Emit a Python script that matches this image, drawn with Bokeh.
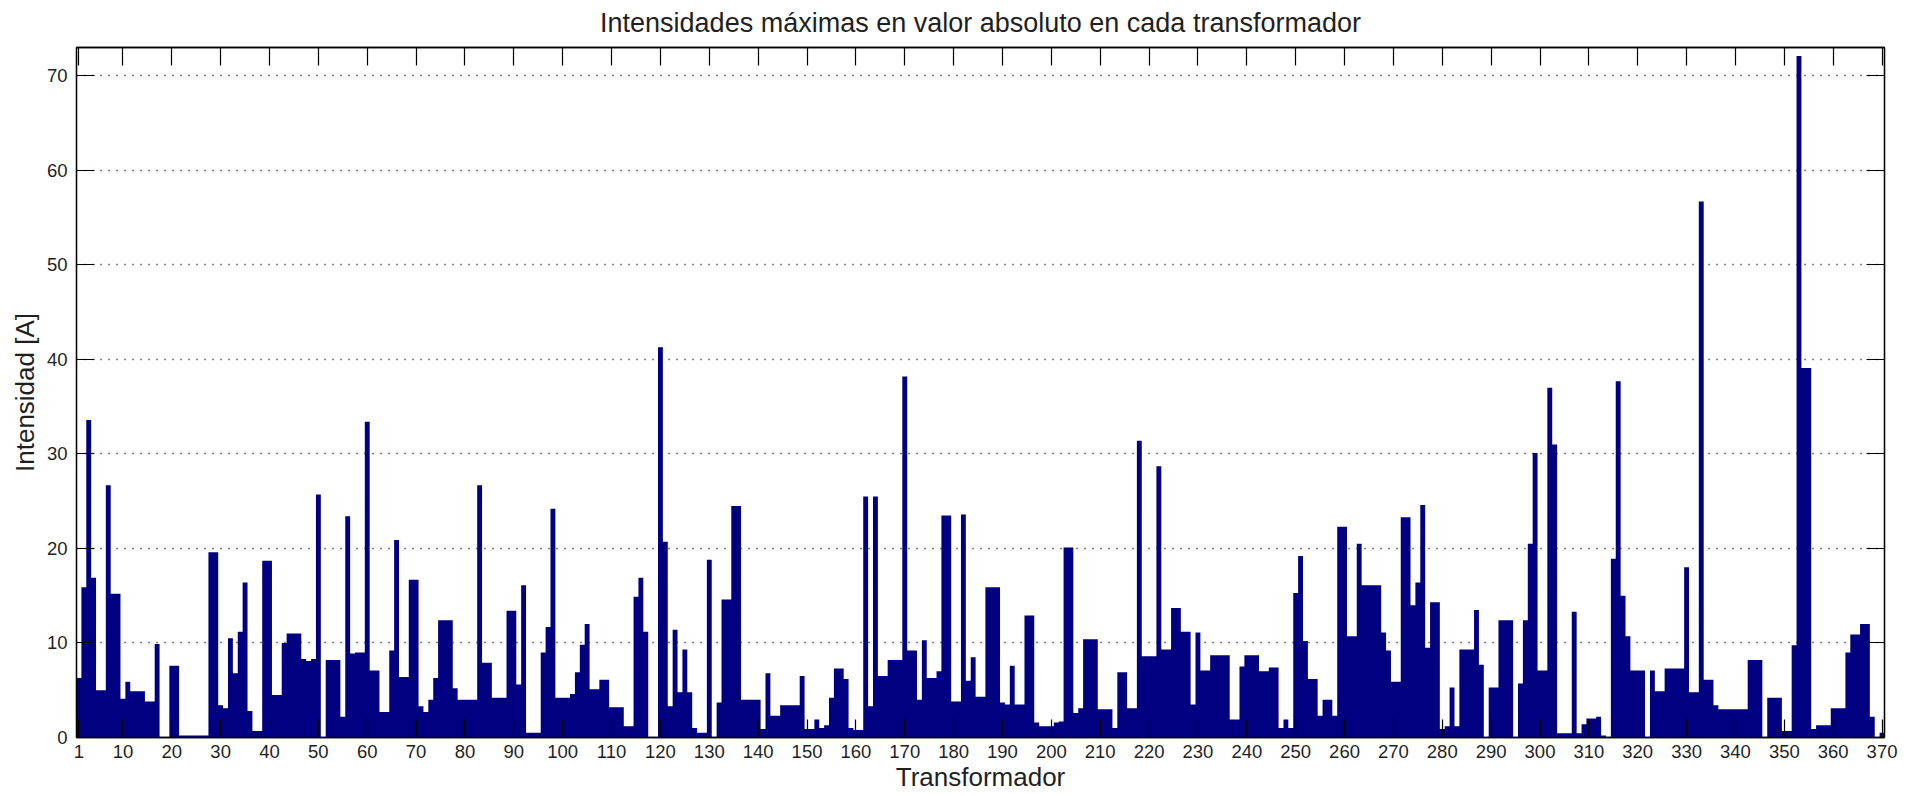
from bokeh.plotting import figure
from bokeh.models import Range1d, FixedTicker, LinearAxis, ColumnDataSource
from bokeh.embed import file_html
from bokeh.resources import INLINE

# ---------------- data ----------------
transformadores = list(range(1, 371))
intensidades = [
    6.3, 15.9, 33.6, 16.9, 5.0, 5.0, 26.7, 15.2, 15.2, 4.1,
    5.9, 4.9, 4.9, 4.9, 3.8, 3.8, 9.9, 0, 0, 7.6,
    7.6, 0.2, 0.2, 0.2, 0.2, 0.2, 0.2, 19.6, 19.6, 3.4,
    3.1, 10.5, 6.8, 11.2, 16.4, 2.8, 0.7, 0.7, 18.7, 18.7,
    4.5, 4.5, 10.0, 11.0, 11.0, 11.0, 8.3, 8.1, 8.3, 25.7,
    0, 8.2, 8.2, 8.2, 2.2, 23.4, 8.9, 9.0, 9.0, 33.4,
    7.1, 7.1, 2.7, 2.7, 9.2, 20.9, 6.4, 6.4, 16.7, 16.7,
    3.3, 2.7, 4.0, 6.3, 12.4, 12.4, 12.4, 5.2, 4.0, 4.0,
    4.0, 4.0, 26.7, 7.9, 7.9, 4.2, 4.2, 4.2, 13.4, 13.4,
    5.6, 16.1, 0.5, 0.5, 0.5, 9.0, 11.7, 24.2, 4.2, 4.2,
    4.2, 4.6, 6.9, 9.8, 12.0, 5.1, 5.1, 6.1, 6.1, 3.2,
    3.2, 3.2, 1.2, 1.2, 14.9, 16.9, 11.2, 0, 0, 41.3,
    20.7, 3.3, 11.4, 4.8, 9.3, 4.8, 1.0, 0.5, 0.5, 18.8,
    0, 3.7, 14.6, 14.6, 24.5, 24.5, 4.0, 4.0, 4.0, 4.0,
    0.9, 6.8, 2.3, 2.3, 3.4, 3.4, 3.4, 3.4, 6.5, 0.9,
    0.9, 1.9, 1.0, 1.3, 4.2, 7.3, 7.3, 6.2, 1.0, 0.8,
    0.8, 25.5, 3.3, 25.5, 6.5, 6.5, 8.2, 8.2, 8.2, 38.2,
    9.2, 9.2, 4.0, 10.3, 6.3, 6.3, 7.0, 23.5, 23.5, 3.8,
    3.8, 23.6, 6.0, 8.5, 4.3, 4.3, 15.9, 15.9, 15.9, 3.7,
    3.5, 7.6, 3.5, 3.5, 12.9, 12.9, 1.6, 1.2, 1.2, 1.2,
    1.6, 1.7, 20.1, 20.1, 2.6, 3.1, 10.4, 10.4, 10.4, 3.0,
    3.0, 3.0, 1.0, 6.9, 6.9, 3.1, 3.1, 31.4, 8.6, 8.6,
    8.6, 28.7, 9.3, 9.3, 13.7, 13.7, 11.2, 11.2, 3.5, 11.1,
    7.1, 7.1, 8.7, 8.7, 8.7, 8.7, 1.9, 1.9, 7.5, 8.7,
    8.7, 8.7, 7.0, 7.0, 7.4, 7.4, 1.0, 1.9, 1.0, 15.3,
    19.2, 10.2, 6.2, 6.2, 2.3, 4.0, 4.0, 2.3, 22.3, 22.3,
    10.7, 10.7, 20.5, 16.1, 16.1, 16.1, 16.1, 11.1, 9.2, 5.9,
    5.9, 23.3, 23.3, 14.0, 16.4, 24.6, 9.5, 14.3, 14.3, 0.9,
    1.2, 5.3, 1.2, 9.3, 9.3, 9.3, 13.5, 7.7, 0, 5.3,
    5.3, 12.4, 12.4, 12.4, 0, 5.7, 12.4, 20.5, 30.1, 7.1,
    7.1, 37.0, 31.0, 0.45, 0.45, 0.45, 13.3, 0.45, 1.4, 2.0,
    2.0, 2.2, 0.2, 0, 18.9, 37.7, 15.0, 10.7, 7.1, 7.1,
    7.1, 0, 7.1, 4.9, 4.9, 7.3, 7.3, 7.3, 7.3, 18.0,
    4.8, 4.8, 56.7, 6.1, 6.1, 3.4, 3.0, 3.0, 3.0, 3.0,
    3.0, 3.0, 8.2, 8.2, 8.2, 0, 4.2, 4.2, 4.2, 0.7,
    0.7, 9.75, 72.1, 39.1, 39.1, 0.9, 1.3, 1.3, 1.3, 3.1,
    3.1, 3.1, 9.0, 10.9, 10.9, 12.0, 12.0, 2.2, 0, 0.5,
]
x_ticks = [1] + list(range(10, 371, 10))
y_ticks = list(range(0, 71, 10))
titulo = "Intensidades máximas en valor absoluto en cada transformador"
etiqueta_x = "Transformador"
etiqueta_y = "Intensidad [A]"

FONT = "Liberation Sans"
TXT = "#1f1f1f"
BAR = "#000080"

# bar edges (each bar is one unit wide, centred on its transformer number)
bordes = [t - 0.5 for t in transformadores] + [transformadores[-1] + 0.5]
alturas = intensidades + [intensidades[-1]]
source = ColumnDataSource(data=dict(x=bordes, y=alturas))

p = figure(width=1916, height=794, output_backend="svg", toolbar_location=None,
           x_range=Range1d(0.5, 370.5), y_range=Range1d(0, 73),
           min_border_left=76, min_border_right=32, min_border_top=47,
           min_border_bottom=56, background_fill_color="white",
           border_fill_color="white")

p.varea_step(x="x", y1=0, y2="y", step_mode="after", source=source,
             fill_color=BAR)

# grid
p.xgrid.visible = False
p.ygrid.ticker = FixedTicker(ticks=y_ticks)
p.ygrid.grid_line_color = "#000000"
p.ygrid.grid_line_dash = "1 7"
p.ygrid.grid_line_width = 1.4

p.outline_line_color = "#000000"
p.outline_line_width = 1.3


def style_axis(ax, ticks, show_labels=True):
    ax.ticker = FixedTicker(ticks=ticks)
    ax.major_tick_in = 18
    ax.major_tick_out = 0
    ax.minor_tick_line_color = None
    ax.major_tick_line_color = "#000000"
    ax.major_tick_line_width = 1.2
    ax.axis_line_color = "#000000"
    ax.axis_line_width = 1.3
    ax.major_label_text_font = FONT
    ax.major_label_text_color = TXT
    ax.major_label_text_font_size = "18.5px"
    if not show_labels:
        ax.major_label_overrides = {t: "" for t in ticks}
        ax.major_label_text_font_size = "1px"
        ax.major_label_standoff = 0


xa = p.xaxis[0]
style_axis(xa, x_ticks)
xa.major_label_standoff = 7
xa.axis_label = etiqueta_x
xa.axis_label_text_font = FONT
xa.axis_label_text_font_size = "26px"
xa.axis_label_text_font_style = "normal"
xa.axis_label_text_color = TXT
xa.axis_label_standoff = 1

ya = p.yaxis[0]
style_axis(ya, y_ticks)
ya.major_label_standoff = 9
ya.axis_label = etiqueta_y
ya.axis_label_text_font = FONT
ya.axis_label_text_font_size = "26px"
ya.axis_label_text_font_style = "normal"
ya.axis_label_text_color = TXT
ya.axis_label_standoff = 4

# top axis: ticks only, carries the chart title as its label
top_ax = LinearAxis()
style_axis(top_ax, x_ticks, show_labels=False)
top_ax.axis_label = titulo
top_ax.axis_label_text_font = FONT
top_ax.axis_label_text_font_size = "27px"
top_ax.axis_label_text_font_style = "normal"
top_ax.axis_label_text_color = TXT
top_ax.axis_label_standoff = 10
p.add_layout(top_ax, "above")

right_ax = LinearAxis()
style_axis(right_ax, y_ticks, show_labels=False)
p.add_layout(right_ax, "right")

open("out.html", "w").write(file_html(p, INLINE))
